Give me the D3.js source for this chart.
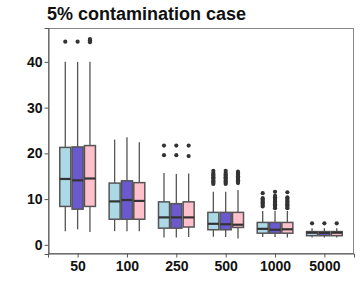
<!DOCTYPE html>
<html>
<head>
<meta charset="utf-8">
<script src="https://cdn.jsdelivr.net/npm/d3@7"></script>
<style>
  body { margin: 0; background: white; }
  svg { display: block; font-family: "Liberation Sans", Arial, sans-serif; }
</style>
</head>
<body>
<script>
const w = 360, h = 300;
const margin = {top: 28, right: 6, bottom: 46, left: 48};

const sizes = ["50", "100", "250", "500", "1000", "5000"];
const methods = ["m1", "m2", "m3"];
const colors = ["#ADD8E6", "#6A5ACD", "#FFC0CB"];
const yTicks = [0, 10, 20, 30, 40];

// [size][method]
const whiskLow = [[3.0, 3.4, 2.8], [3.0, 3.0, 3.0], [1.6, 1.6, 1.7], [1.75, 1.7, 1.4], [1.7, 1.7, 1.6], [1.6, 1.6, 1.6]];
const q1 = [[8.4, 7.8, 8.4], [5.6, 5.6, 5.6], [3.65, 3.65, 3.9], [3.3, 3.3, 3.8], [2.55, 2.55, 2.55], [2.0, 2.0, 2.0]];
const medians = [[14.4, 14.1, 14.5], [9.5, 9.8, 9.6], [6.0, 6.0, 6.0], [4.6, 4.5, 4.4], [3.5, 3.3, 3.4], [2.65, 2.6, 2.65]];
const q3 = [[21.3, 21.4, 21.7], [13.5, 14.0, 13.6], [9.4, 9.0, 9.4], [7.1, 7.1, 7.1], [4.9, 4.9, 4.9], [2.9, 2.9, 2.9]];
const whiskHigh = [[40.0, 40.0, 40.0], [23.0, 23.5, 22.4], [15.7, 15.5, 15.6], [11.6, 11.6, 12.0], [7.4, 7.4, 7.4], [3.65, 3.65, 3.65]];
const outliers = [
  [[44.4], [44.4], [44.3, 44.7, 45.0]],
  [[], [], []],
  [[21.7, 19.6], [21.7, 19.6], [21.7, 19.4]],
  [[13.3, 13.6, 13.9, 14.2, 14.5, 14.8, 15.1, 15.4, 15.7, 16.2],
   [13.3, 13.6, 13.9, 14.2, 14.5, 14.8, 15.1, 15.4, 15.7, 16.2],
   [13.5, 13.8, 14.1, 14.4, 14.7, 15.0, 15.3, 15.6, 16.0]],
  [[8.4, 8.7, 9.0, 9.3, 9.6, 9.9, 10.2, 11.3],
   [8.0, 8.3, 8.6, 8.9, 9.2, 9.5, 9.8, 10.1, 10.4, 10.7, 11.6],
   [8.0, 8.3, 8.6, 8.9, 9.2, 9.5, 9.8, 10.1, 10.4, 11.5]],
  [[4.7], [4.7], [4.7]]
];

const svg = d3.select("body").append("svg")
  .attr("width", w).attr("height", h);

svg.append("text")
  .attr("x", 47).attr("y", 20)
  .attr("font-size", 18).attr("font-weight", "bold")
  .attr("fill", "#111")
  .text("5% contamination case");

const x = d3.scalePoint()
  .domain(sizes)
  .range([margin.left, w - margin.right])
  .padding(0.6);

const y = d3.scaleLinear()
  .domain([-2, 47.4])
  .range([h - margin.bottom, margin.top]);

const dodge = d3.scaleBand()
  .domain(methods)
  .range([-18.5, 18.5]);
const boxW = 11;

// panel border
svg.append("rect")
  .attr("x", margin.left + 0.5).attr("y", margin.top + 0.5)
  .attr("width", w - margin.left - margin.right - 1)
  .attr("height", h - margin.top - margin.bottom - 1)
  .attr("fill", "none").attr("stroke", "#888").attr("stroke-width", 1);

const yAxis = svg.append("g")
  .attr("transform", "translate(" + (margin.left + 0.5) + ",0)")
  .call(d3.axisLeft(y).tickValues(yTicks).tickSize(4).tickPadding(2));
const xAxis = svg.append("g")
  .attr("transform", "translate(0," + (h - margin.bottom - 0.5) + ")")
  .call(d3.axisBottom(x).tickSize(4).tickPadding(4));

[yAxis, xAxis].forEach(function(g) {
  g.select(".domain").attr("stroke", "#555");
  g.selectAll(".tick line").attr("stroke", "#555");
  g.selectAll(".tick text")
    .attr("font-size", 14).attr("font-weight", "bold")
    .attr("font-family", "Liberation Sans, Arial, sans-serif")
    .attr("fill", "#111");
});

const cells = [];
sizes.forEach(function(s, i) {
  methods.forEach(function(m, j) {
    cells.push({
      size: s, method: m, color: colors[j],
      lo: whiskLow[i][j], q1: q1[i][j], med: medians[i][j], q3: q3[i][j], hi: whiskHigh[i][j],
      out: outliers[i][j]
    });
  });
});

const cx = d => x(d.size) + dodge(d.method) + dodge.bandwidth() / 2;

const g = svg.append("g");

g.selectAll("line.wlo").data(cells).enter().append("line")
  .attr("x1", cx).attr("x2", cx)
  .attr("y1", d => y(d.lo)).attr("y2", d => y(d.q1))
  .attr("stroke", "#555").attr("stroke-width", 1.3);

g.selectAll("line.whi").data(cells).enter().append("line")
  .attr("x1", cx).attr("x2", cx)
  .attr("y1", d => y(d.q3)).attr("y2", d => y(d.hi))
  .attr("stroke", "#555").attr("stroke-width", 1.3);

g.selectAll("rect.box").data(cells).enter().append("rect")
  .attr("x", d => cx(d) - boxW / 2)
  .attr("width", boxW)
  .attr("y", d => y(d.q3))
  .attr("height", d => y(d.q1) - y(d.q3))
  .attr("fill", d => d.color)
  .attr("stroke", "#555").attr("stroke-width", 1.5);

g.selectAll("line.med").data(cells).enter().append("line")
  .attr("x1", d => cx(d) - boxW / 2).attr("x2", d => cx(d) + boxW / 2)
  .attr("y1", d => y(d.med)).attr("y2", d => y(d.med))
  .attr("stroke", "#333").attr("stroke-width", 2.2);

cells.forEach(function(d) {
  g.selectAll(null).data(d.out).enter().append("circle")
    .attr("cx", cx(d))
    .attr("cy", v => y(v))
    .attr("r", 2.1)
    .attr("fill", "#333");
});
</script>
</body>
</html>
